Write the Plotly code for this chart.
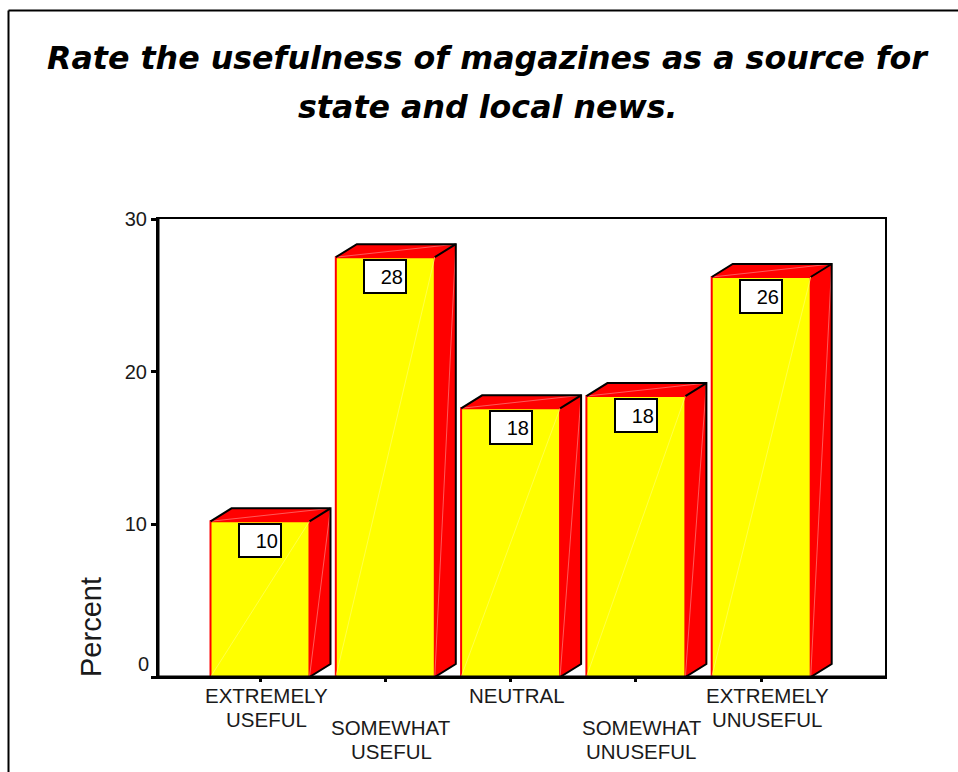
import plotly.graph_objects as go

W, H = 958, 772
# plot frame in pixels
LEFT, RIGHT, TOP, BOTTOM = 158, 885, 219, 677
STEP = 125.3          # pixels between category centres
FIRST = 260           # pixel centre of the first category

categories = [["EXTREMELY", "USEFUL"], ["SOMEWHAT", "USEFUL"], ["NEUTRAL"],
              ["SOMEWHAT", "UNUSEFUL"], ["EXTREMELY", "UNUSEFUL"]]
percent = [10.2, 27.5, 17.6, 18.4, 26.2]
label_rows = [0, 1, 0, 1, 0]
y_ticks = [10, 20, 30]
title_lines = ["Rate the usefulness of magazines as a source for",
               "state and local news."]

BAR_W = 0.79
DEPTH_X = 21 / STEP
DEPTH_Y = 13 / ((BOTTOM - TOP) / 30)
SANS = "Liberation Sans"

fig = go.Figure()

fig.add_bar(x=list(range(5)), y=percent, width=BAR_W,
            marker=dict(color="#ffff00", line=dict(color="#ff0000", width=2)),
            showlegend=False, hoverinfo="skip")


def poly(xs, ys, fill=None, line="rgba(0,0,0,0)", width=0):
    fig.add_scatter(x=xs, y=ys, mode="lines", fill="toself" if fill else None,
                    fillcolor=fill, line=dict(color=line, width=width),
                    showlegend=False, hoverinfo="skip", cliponaxis=False)


# extruded side and top faces, with the outline on the far edges
for i, v in enumerate(percent):
    x0, x1 = i - BAR_W / 2, i + BAR_W / 2
    bx0, bx1, bt, bb = x0 + DEPTH_X, x1 + DEPTH_X, v + DEPTH_Y, DEPTH_Y
    poly([x1, bx1, bx1, x1, x1], [0, bb, bt, v, 0], fill="#ff0000")
    poly([x0, bx0, bx1, x1, x0], [v, bt, bt, v, v], fill="#ff0000")
    # faint facet seams
    poly([x0, x1], [0, v], line="#ffff66", width=0.7)
    poly([x1, bx1], [0, bt], line="#ff8080", width=0.7)
    poly([x0, bx1], [v, bt], line="#ff8080", width=0.7)
    poly([x0, bx0, bx1, bx1, x1], [v, bt, bt, bb, 0], line="#000000", width=2)
    poly([x1, bx1], [v, bt], line="#000000", width=2)

annotations = []

# boxed value labels
for i, v in enumerate(percent):
    annotations.append(dict(
        x=i, y=v, xref="x", yref="y", xanchor="center", yanchor="top", yshift=-2,
        text=f"{v:.0f}", showarrow=False, align="right", width=36, height=27,
        valign="middle", bgcolor="#ffffff", bordercolor="#000000", borderwidth=2,
        borderpad=2, font=dict(family=SANS, size=20, color="#000000")))

# staggered category labels, one annotation per text line
for i, (lines, row) in enumerate(zip(categories, label_rows)):
    for k, line in enumerate(lines):
        annotations.append(dict(
            x=i, xref="x", xshift=6, y=1 - (695 + 32 * row + 24 * k) / H, yref="paper",
            xanchor="center", yanchor="middle", text=line, showarrow=False,
            font=dict(family=SANS, size=20.5, color="#1a1a1a")))

# two-line heading, each line placed on its own baseline
for line, py in zip(title_lines, [58, 107]):
    annotations.append(dict(
        x=488 / W, y=1 - py / H, xref="paper", yref="paper", xanchor="center",
        yanchor="middle", text=f"<b><i>{line}</i></b>", showarrow=False,
        font=dict(family="DejaVu Sans", size=31.7, color="#000000")))

annotations += [
    dict(x=91 / W, y=1 - 627 / H, xref="paper", yref="paper", xanchor="center",
         yanchor="middle", text="Percent", textangle=-90, showarrow=False,
         font=dict(family=SANS, size=29, color="#1a1a1a")),
    dict(x=151 / W, y=1 - 664 / H, xref="paper", yref="paper", xanchor="right",
         yanchor="middle", text="0", showarrow=False,
         font=dict(family=SANS, size=20, color="#1a1a1a")),
]


def frame_line(x0, y0, x1, y1, width):
    return dict(type="line", xref="paper", yref="paper", x0=x0 / W, y0=1 - y0 / H,
                x1=x1 / W, y1=1 - y1 / H, line=dict(color="#000000", width=width))


fig.update_layout(
    width=W, height=H, autosize=False, margin=dict(l=0, r=0, t=0, b=0),
    paper_bgcolor="#ffffff", plot_bgcolor="#ffffff", annotations=annotations,
    shapes=[
        # page border, open on the right and bottom
        frame_line(8.5, 10.5, 8.5, H, 2),
        frame_line(8.5, 10.5, W, 10.5, 2),
        # heavier left and bottom sides of the plot frame
        frame_line(LEFT, TOP, LEFT, BOTTOM + 1, 3),
        frame_line(LEFT, BOTTOM, RIGHT, BOTTOM, 3),
    ],
    xaxis=dict(domain=[LEFT / W, RIGHT / W], automargin=False,
               range=[(LEFT - FIRST) / STEP, (RIGHT - FIRST) / STEP],
               tickmode="array", tickvals=list(range(5)), ticktext=[""] * 5,
               ticks="outside", ticklen=3, tickwidth=3, tickcolor="#000000",
               showgrid=False, zeroline=False, showline=True, mirror=True,
               linecolor="#000000", linewidth=2, fixedrange=True),
    yaxis=dict(domain=[1 - BOTTOM / H, 1 - TOP / H], range=[0, 30], automargin=False,
               tickmode="array", tickvals=[0] + y_ticks,
               ticktext=[""] + [str(t) for t in y_ticks],
               ticks="outside", ticklen=5, tickwidth=3, tickcolor="#000000",
               tickfont=dict(family=SANS, size=20, color="#1a1a1a"),
               showgrid=False, zeroline=False, showline=True, mirror=True,
               linecolor="#000000", linewidth=2, fixedrange=True),
)

fig.write_html("out.html", config=dict(displayModeBar=False))
